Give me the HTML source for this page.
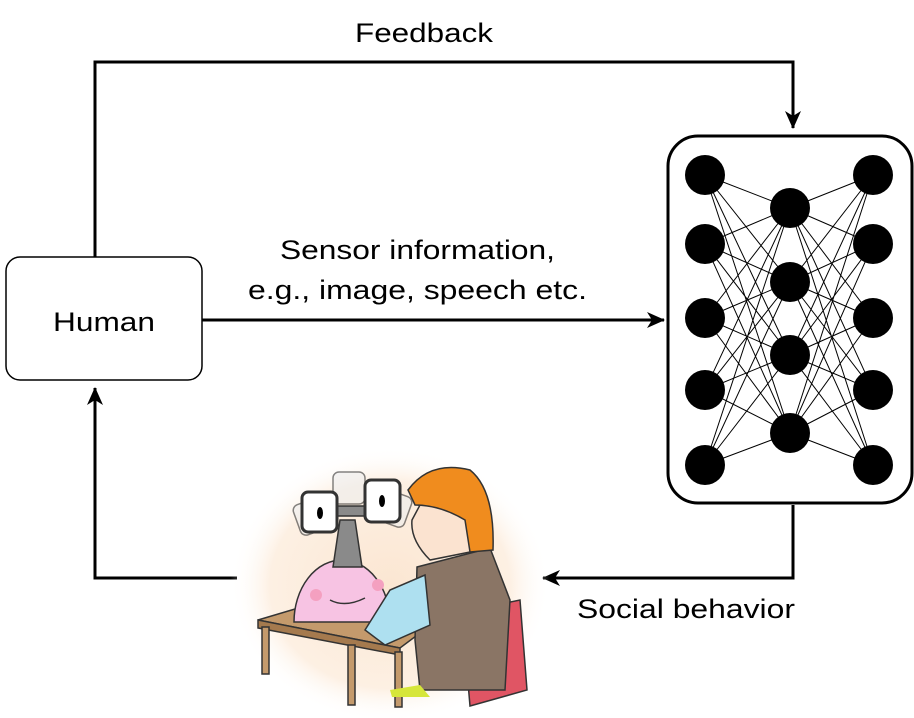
<!DOCTYPE html>
<html><head><style>
body{margin:0;background:#fff;}
svg{display:block}
text{font-family:"Liberation Sans",sans-serif;fill:#000}
</style></head><body>
<svg width="914" height="718" viewBox="0 0 914 718">
<defs>
<marker id="ar" markerWidth="20" markerHeight="20" refX="17" refY="8" orient="auto" markerUnits="userSpaceOnUse">
<path d="M0,0 L18,8 L0,16 L5,8 Z" fill="#000"/></marker>
<radialGradient id="bg" cx="50%" cy="50%" r="50%">
<stop offset="0%" stop-color="#fbe6d2"/><stop offset="75%" stop-color="#fdf0e3"/><stop offset="100%" stop-color="#fff" stop-opacity="0"/></radialGradient>
</defs>
<g stroke="#000" stroke-width="3" fill="none">
<path d="M95,257 V62 H793 V128" marker-end="url(#ar)"/>
<path d="M202,320 H664" marker-end="url(#ar)"/>
<path d="M793,505 V578 H543" marker-end="url(#ar)"/>
<path d="M237,578 H95 V388" marker-end="url(#ar)"/>
</g>
<rect x="6" y="257" width="196" height="123" rx="14" fill="#fff" stroke="#000" stroke-width="1.5"/>
<text x="53" y="331" font-size="27" textLength="102" lengthAdjust="spacingAndGlyphs">Human</text>
<text x="355" y="42" font-size="27" textLength="138" lengthAdjust="spacingAndGlyphs">Feedback</text>
<text x="280" y="259" font-size="27" textLength="275" lengthAdjust="spacingAndGlyphs">Sensor information,</text>
<text x="248" y="299" font-size="27" textLength="339" lengthAdjust="spacingAndGlyphs">e.g., image, speech etc.</text>
<text x="577" y="618" font-size="27" textLength="218" lengthAdjust="spacingAndGlyphs">Social behavior</text>
<rect x="668" y="136" width="244" height="367" rx="30" fill="#fff" stroke="#000" stroke-width="3"/>
<g stroke="#000" stroke-width="1">
<path d="M705,175 L790,208 M705,175 L790,282 M705,175 L790,355 M705,175 L790,433
M705,244 L790,208 M705,244 L790,282 M705,244 L790,355 M705,244 L790,433
M705,318 L790,208 M705,318 L790,282 M705,318 L790,355 M705,318 L790,433
M705,390 L790,208 M705,390 L790,282 M705,390 L790,355 M705,390 L790,433
M705,465 L790,208 M705,465 L790,282 M705,465 L790,355 M705,465 L790,433"/>
<path d="M873,175 L790,208 M873,175 L790,282 M873,175 L790,355 M873,175 L790,433
M873,244 L790,208 M873,244 L790,282 M873,244 L790,355 M873,244 L790,433
M873,318 L790,208 M873,318 L790,282 M873,318 L790,355 M873,318 L790,433
M873,390 L790,208 M873,390 L790,282 M873,390 L790,355 M873,390 L790,433
M873,465 L790,208 M873,465 L790,282 M873,465 L790,355 M873,465 L790,433"/>
</g>
<g fill="#000">
<circle cx="705" cy="175" r="20"/><circle cx="705" cy="244" r="20"/><circle cx="705" cy="318" r="20"/><circle cx="705" cy="390" r="20"/><circle cx="705" cy="465" r="20"/>
<circle cx="790" cy="208" r="20"/><circle cx="790" cy="282" r="20"/><circle cx="790" cy="355" r="20"/><circle cx="790" cy="433" r="20"/>
<circle cx="873" cy="175" r="20"/><circle cx="873" cy="244" r="20"/><circle cx="873" cy="318" r="20"/><circle cx="873" cy="390" r="20"/><circle cx="873" cy="465" r="20"/>
</g>
<ellipse cx="390" cy="585" rx="160" ry="138" fill="url(#bg)"/>
<g stroke="#333" stroke-width="1.5">
<polygon points="258,620 305,606 440,618 400,648" fill="#c49a6c"/>
<polygon points="258,620 400,648 400,655 258,628" fill="#a57a4e"/>
<rect x="262" y="627" width="7" height="47" fill="#c49a6c"/>
<rect x="348" y="645" width="7" height="60" fill="#c49a6c"/>
<rect x="395" y="652" width="7" height="55" fill="#c49a6c"/>
<path d="M294,622 A48,62 0 0 1 390,622 Z" fill="#f7c3e3"/>
<path d="M333,567 L340,520 L355,520 L362,567 Z" fill="#8a8a8a"/>
<rect x="296" y="500" width="34" height="32" rx="6" fill="#eee" opacity=".6" transform="rotate(-20 313 516)"/>
<rect x="333" y="472" width="32" height="32" rx="6" fill="#eee" opacity=".6"/>
<rect x="375" y="492" width="34" height="32" rx="6" fill="#eee" opacity=".6" transform="rotate(20 392 508)"/>
<rect x="327" y="506" width="43" height="10" fill="#8a8a8a"/>
<rect x="302" y="492" width="35" height="40" rx="6" fill="#fff" stroke-width="3"/>
<rect x="365" y="480" width="35" height="42" rx="6" fill="#fff" stroke-width="3"/>
<polygon points="462,612 520,600 527,690 470,706" fill="#e05564"/>
<path d="M417,567 L490,548 L510,600 L505,690 L420,690 L415,640 Z" fill="#8a7565"/>
<path d="M365,630 L390,590 L425,575 L430,625 L385,645 Z" fill="#aee0f0"/>
<path d="M420,505 Q440,478 480,490 L480,550 L430,560 Q410,540 412,520 Z" fill="#fbe3d0"/>
<path d="M408,490 Q430,460 470,470 Q495,490 493,550 L470,552 L465,520 Q440,505 415,505 Z" fill="#f08c1e"/>
<path d="M390,690 L420,685 L430,697 L392,697 Z" fill="#d6e63a" stroke="none"/>
</g>
<g fill="#000"><ellipse cx="320" cy="513" rx="3" ry="6"/><ellipse cx="382" cy="501" rx="3" ry="6"/></g>
<path d="M330,600 Q345,608 365,598" stroke="#333" stroke-width="1.5" fill="none"/>
<circle cx="316" cy="595" r="6" fill="#f4a0c0"/><circle cx="378" cy="585" r="6" fill="#f4a0c0"/>
</svg>
</body></html>
